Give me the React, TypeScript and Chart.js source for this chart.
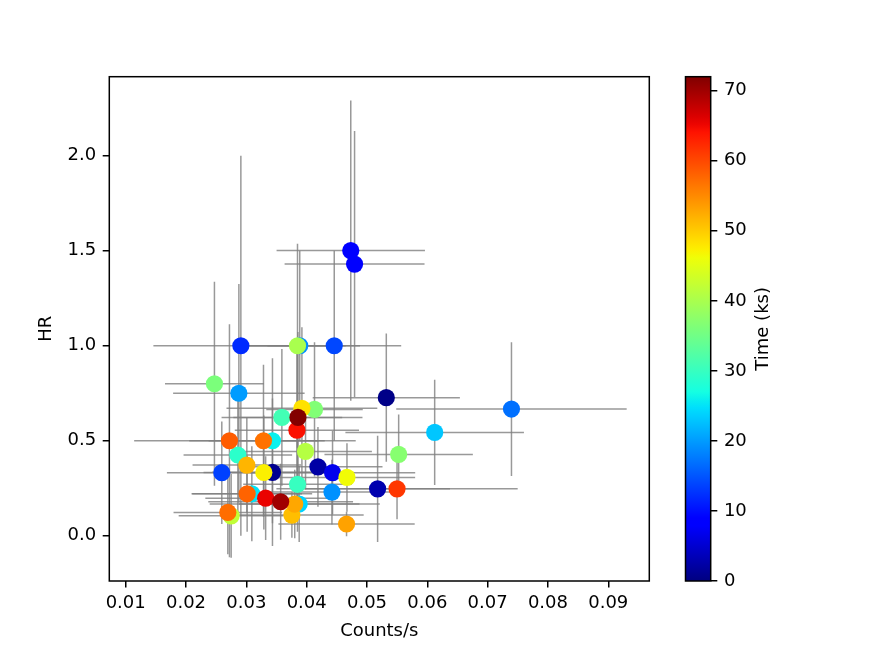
import React, { useEffect, useRef } from "react";
import { Chart, registerables } from "chart.js";

Chart.register(...registerables);

// ---- data (ordered by observation time) ----
const timeKs = [0.5, 1.0, 2.3, 2.9, 6.8, 8.0, 9.0, 12.0, 13.5, 14.0, 16.9, 19.0, 19.2, 20.0, 23.0, 24.0, 25.0, 26.0, 29.0, 30.0, 31.0, 36.0, 36.5, 37.0, 40.0, 41.0, 42.0, 46.3, 47.2, 48.3, 51.0, 51.7, 52.8, 53.2, 56.8, 57.2, 58.0, 58.5, 61.3, 64.3, 65.4, 70.0, 71.8];
const countsPerSec = [0.0532, 0.03433, 0.04187, 0.05176, 0.04429, 0.04731, 0.04794, 0.02909, 0.02593, 0.04457, 0.07395, 0.03885, 0.04419, 0.02876, 0.06122, 0.03876, 0.03091, 0.03433, 0.02859, 0.03848, 0.03589, 0.02471, 0.0413, 0.05525, 0.03848, 0.03981, 0.02748, 0.04668, 0.0329, 0.03921, 0.03755, 0.03008, 0.03802, 0.04661, 0.03284, 0.02693, 0.03013, 0.0272, 0.05498, 0.03838, 0.0332, 0.03569, 0.03855];
const countsErr = [0.0122, 0.01, 0.0107, 0.012, 0.0137, 0.0123, 0.0116, 0.0145, 0.0091, 0.0111, 0.0191, 0.01, 0.011, 0.0109, 0.0148, 0.01, 0.01, 0.0138, 0.009, 0.009, 0.01, 0.0082, 0.008, 0.0123, 0.008, 0.011, 0.0087, 0.0113, 0.01, 0.0125, 0.0119, 0.009, 0.0141, 0.0113, 0.0091, 0.009, 0.0091, 0.0158, 0.02, 0.0103, 0.01, 0.012, 0.0107];
const hardnessRatio = [0.727, 0.334, 0.363, 0.247, 0.332, 1.501, 1.43, 1.0, 0.332, 1.0, 0.667, 1.0, 0.23, 0.75, 0.544, 0.167, 0.221, 0.5, 0.425, 0.271, 0.623, 0.8, 0.665, 0.428, 1.0, 0.444, 0.105, 0.307, 0.333, 0.671, 0.109, 0.372, 0.167, 0.062, 0.5, 0.123, 0.221, 0.5, 0.247, 0.556, 0.198, 0.179, 0.623];
const hardnessErr = [0.338, 0.388, 0.21, 0.28, 0.22, 0.79, 0.7, 1.0, 0.27, 0.5, 0.352, 0.5, 0.17, 0.575, 0.277, 0.2, 0.25, 0.434, 0.3, 0.25, 0.36, 0.537, 0.353, 0.21, 0.537, 0.2, 0.22, 0.18, 0.3, 0.427, 0.12, 0.25, 0.18, 0.065, 0.4, 0.22, 0.2, 0.613, 0.16, 0.45, 0.22, 0.2, 0.45];

const X_RANGE = [0.00728, 0.0968];
const Y_RANGE = [-0.238, 2.416];
const T_RANGE = [0, 72];
const X_TICKS = [0.01, 0.02, 0.03, 0.04, 0.05, 0.06, 0.07, 0.08, 0.09];
const Y_TICKS = [0.0, 0.5, 1.0, 1.5, 2.0];
const T_TICKS = [0, 10, 20, 30, 40, 50, 60, 70];

const X_TITLE = "Counts/s";
const Y_TITLE = "HR";
const CB_TITLE = "Time (ks)";

// ---- styling ----
const FONT = "DejaVu Sans";
const FS = 18;
const TICK_LEN = 6.6;
const SPINE_W = 1.5;

// matplotlib 'jet' segment data
const JET: Record<string, number[][]> = {
  r: [[0, 0], [0.35, 0], [0.66, 1], [0.89, 1], [1, 0.5]],
  g: [[0, 0], [0.125, 0], [0.375, 1], [0.64, 1], [0.91, 0], [1, 0]],
  b: [[0, 0.5], [0.11, 1], [0.34, 1], [0.65, 0], [1, 0]],
};
function seg(pts: number[][], f: number) {
  for (let i = 1; i < pts.length; i++) {
    if (f <= pts[i][0]) {
      const [x0, y0] = pts[i - 1];
      const [x1, y1] = pts[i];
      return y0 + ((f - x0) / (x1 - x0)) * (y1 - y0);
    }
  }
  return pts[pts.length - 1][1];
}
function jet(f: number) {
  const c = Math.max(0, Math.min(1, f));
  const r = Math.round(seg(JET.r, c) * 255);
  const g = Math.round(seg(JET.g, c) * 255);
  const b = Math.round(seg(JET.b, c) * 255);
  return `rgb(${r},${g},${b})`;
}
const tColor = (t: number) => jet((t - T_RANGE[0]) / (T_RANGE[1] - T_RANGE[0]));

const errorBarPlugin = {
  id: "errorBars",
  beforeDatasetsDraw(chart: any) {
    const { ctx, chartArea, scales } = chart;
    const xs = scales.x;
    const ys = scales.y;
    ctx.save();
    ctx.beginPath();
    ctx.rect(chartArea.left, chartArea.top, chartArea.right - chartArea.left, chartArea.bottom - chartArea.top);
    ctx.clip();
    ctx.strokeStyle = "rgba(128,128,128,0.8)";
    ctx.lineWidth = 1.5;
    for (let i = 0; i < countsPerSec.length; i++) {
      const x = countsPerSec[i];
      const y = hardnessRatio[i];
      const px = xs.getPixelForValue(x);
      const py = ys.getPixelForValue(y);
      ctx.beginPath();
      ctx.moveTo(xs.getPixelForValue(x - countsErr[i]), py);
      ctx.lineTo(xs.getPixelForValue(x + countsErr[i]), py);
      ctx.moveTo(px, ys.getPixelForValue(y - hardnessErr[i]));
      ctx.lineTo(px, ys.getPixelForValue(y + hardnessErr[i]));
      ctx.stroke();
    }
    ctx.restore();
  },
};

const framePlugin = {
  id: "frame",
  afterDraw(chart: any) {
    const { ctx, chartArea } = chart;
    ctx.save();
    ctx.strokeStyle = "#000";
    ctx.lineWidth = SPINE_W;
    ctx.strokeRect(chartArea.left, chartArea.top, chartArea.right - chartArea.left, chartArea.bottom - chartArea.top);
    ctx.restore();
  },
};

const colorbarPlugin = {
  id: "colorbar",
  beforeDatasetsDraw(chart: any) {
    const { ctx, chartArea, scales } = chart;
    const ys = scales.y;
    const y0 = ys.getPixelForValue(T_RANGE[0]);
    const y1 = ys.getPixelForValue(T_RANGE[1]);
    const grad = ctx.createLinearGradient(0, y0, 0, y1);
    for (let i = 0; i <= 64; i++) grad.addColorStop(i / 64, jet(i / 64));
    ctx.save();
    ctx.fillStyle = grad;
    ctx.fillRect(chartArea.left, y1, chartArea.right - chartArea.left, y0 - y1);
    ctx.restore();
  },
  afterDraw(chart: any) {
    const { ctx, chartArea, scales } = chart;
    const ys = scales.y;
    ctx.save();
    ctx.strokeStyle = "#000";
    ctx.lineWidth = SPINE_W;
    ctx.strokeRect(chartArea.left, chartArea.top, chartArea.right - chartArea.left, chartArea.bottom - chartArea.top);
    ctx.font = `${FS}px "${FONT}"`;
    let maxW = 0;
    for (const t of ys.ticks) maxW = Math.max(maxW, ctx.measureText(String(t.value)).width);
    const cx = chartArea.right + TICK_LEN + 6.6 + maxW + 7.6 + FS * 0.5;
    const cy = (chartArea.top + chartArea.bottom) / 2;
    ctx.translate(cx, cy);
    ctx.rotate(-Math.PI / 2);
    ctx.fillStyle = "#000";
    ctx.textAlign = "center";
    ctx.textBaseline = "middle";
    ctx.fillText(CB_TITLE, 0, 0);
    ctx.restore();
  },
};

const tickFont = { family: FONT, size: FS };
const fixedTicks = (vals: number[]) => (s: any) => {
  s.ticks = vals.map((v) => ({ value: v }));
};

export default function App() {
  const mainRef = useRef<HTMLCanvasElement>(null);
  const cbRef = useRef<HTMLCanvasElement>(null);

  useEffect(() => {
    const points = countsPerSec.map((x, i) => ({ x, y: hardnessRatio[i] }));
    const main = new Chart(mainRef.current!, {
      type: "scatter",
      data: {
        datasets: [
          {
            data: points,
            pointRadius: 8.6,
            pointBorderWidth: 0,
            pointBackgroundColor: timeKs.map(tColor),
            pointBorderColor: timeKs.map(tColor),
          },
        ],
      },
      options: {
        responsive: false,
        animation: false,
        events: [],
        layout: { padding: { left: 0, top: 76.7, right: 222.7, bottom: 0 } },
        plugins: { legend: { display: false }, tooltip: { enabled: false } },
        scales: {
          x: {
            type: "linear",
            min: X_RANGE[0],
            max: X_RANGE[1],
            border: { display: false },
            grid: { drawOnChartArea: false, drawTicks: true, tickLength: TICK_LEN, color: "#000", lineWidth: SPINE_W },
            ticks: { color: "#000", font: tickFont, padding: 4.5, maxRotation: 0, autoSkip: false, callback: (v: any) => Number(v).toFixed(2) },
            afterBuildTicks: fixedTicks(X_TICKS),
            title: { display: true, text: X_TITLE, color: "#000", font: tickFont, padding: { top: 0, bottom: 11 } },
            afterFit: (s: any) => { s.height = 72; },
          },
          y: {
            type: "linear",
            min: Y_RANGE[0],
            max: Y_RANGE[1],
            border: { display: false },
            grid: { drawOnChartArea: false, drawTicks: true, tickLength: TICK_LEN, color: "#000", lineWidth: SPINE_W },
            ticks: { color: "#000", font: tickFont, padding: 6.6, autoSkip: false, callback: (v: any) => Number(v).toFixed(1) },
            afterBuildTicks: fixedTicks(Y_TICKS),
            title: { display: true, text: Y_TITLE, color: "#000", font: tickFont, padding: { top: 36, bottom: 0 } },
            afterFit: (s: any) => { s.width = 109.3; },
          },
        },
      },
      plugins: [errorBarPlugin, framePlugin],
    } as any);

    const cb = new Chart(cbRef.current!, {
      type: "bar",
      data: { labels: [""], datasets: [{ data: [] }] },
      options: {
        responsive: false,
        animation: false,
        events: [],
        layout: { padding: { left: 25.5, top: 76.7, right: 0, bottom: 72 } },
        plugins: { legend: { display: false }, tooltip: { enabled: false } },
        scales: {
          x: { display: false },
          y: {
            type: "linear",
            position: "right",
            min: T_RANGE[0],
            max: T_RANGE[1],
            border: { display: false },
            grid: { drawOnChartArea: false, drawTicks: true, tickLength: TICK_LEN, color: "#000", lineWidth: SPINE_W },
            ticks: { color: "#000", font: tickFont, padding: 6.6, autoSkip: false },
            afterBuildTicks: fixedTicks(T_TICKS),
            afterFit: (s: any) => { s.width = 161.3; },
          },
        },
      },
      plugins: [colorbarPlugin],
    } as any);

    return () => {
      main.destroy();
      cb.destroy();
    };
  }, []);

  return (
    <div style={{ position: "absolute", left: 0, top: 0, width: 872, height: 653, background: "#fff" }}>
      <canvas ref={mainRef} width={872} height={653} style={{ position: "absolute", left: 0, top: 0 }} />
      <canvas ref={cbRef} width={212} height={653} style={{ position: "absolute", left: 660, top: 0 }} />
    </div>
  );
}
